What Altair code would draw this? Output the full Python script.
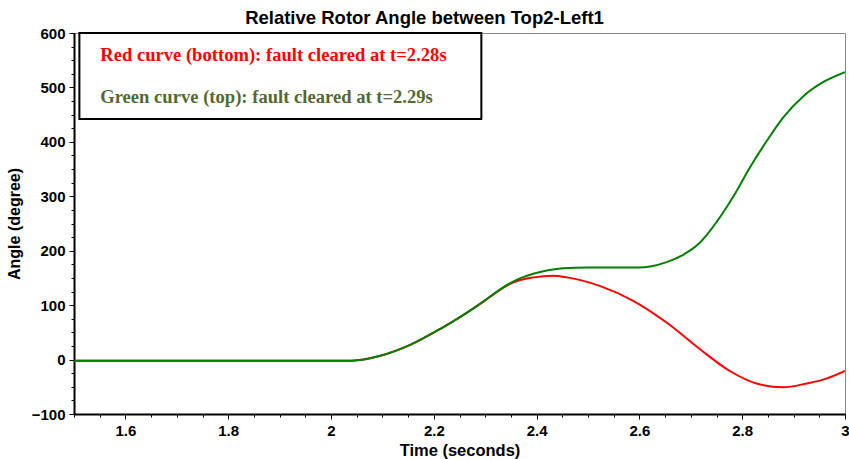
import altair as alt
import pandas as pd

# Green curve (top): fault cleared at t=2.29s
green_t = [1.5, 2.04, 2.096, 2.154, 2.212, 2.251, 2.297, 2.329, 2.362, 2.407, 2.452, 2.50, 2.55,
           2.601, 2.621, 2.653, 2.686, 2.718, 2.737, 2.76, 2.783, 2.815, 2.848, 2.880, 2.919, 2.958, 3.0]
green_v = [-2, -2, 7, 27, 56, 78, 107, 129, 147, 161, 168, 169, 169,
           169, 171, 179, 193, 215, 236, 266, 300, 353, 402, 445, 484, 510, 528]

# Red curve (bottom): fault cleared at t=2.28s
red_t = [1.5, 2.04, 2.096, 2.154, 2.212, 2.251, 2.297, 2.312, 2.355, 2.394, 2.433, 2.459, 2.524,
         2.588, 2.653, 2.718, 2.776, 2.828, 2.880, 2.925, 2.964, 3.0]
red_v = [-2, -2, 7, 27, 56, 78, 107, 117, 142, 151, 154, 151, 135,
         108, 68, 19, -21, -44, -51, -44, -35, -21]

x_labels = [1.6, 1.8, 2.0, 2.2, 2.4, 2.6, 2.8, 3.0]
x_minor = [round(1.5 + 0.05 * i, 2) for i in range(31)]
y_labels = [-100, 0, 100, 200, 300, 400, 500, 600]
y_minor = [-100 + 25 * i for i in range(29)]

note_lines = ["Red curve (bottom): fault cleared at t=2.28s",
              "Green curve (top): fault cleared at t=2.29s"]
note_colors = ["#FF0000", "#55692F"]
note_y = [560, 483]
note_x = [1.551, 1.551]
box_x = [1.5105, 2.2925]
box_y = [600, 442]

df = pd.concat([
    pd.DataFrame({"t": red_t, "v": red_v, "series": "red", "order": 0}),
    pd.DataFrame({"t": green_t, "v": green_v, "series": "green", "order": 1}),
])

xs = alt.Scale(domain=[1.5, 3.0], nice=False, zero=False)
ys = alt.Scale(domain=[-100, 600], nice=False, zero=False)

lab_font = "Liberation Sans"

x_major_axis = alt.Axis(values=x_labels, format="~g", orient="bottom", title="Time (seconds)",
                        labelFont=lab_font, labelFontSize=15, labelFontWeight="bold", labelColor="black",
                        titleFont=lab_font, titleFontSize=16.5, titleFontWeight="bold", titleColor="black",
                        tickSize=5, tickColor="black", tickWidth=1, labelPadding=4, titlePadding=4,
                        domainColor="black", domainWidth=2, grid=False, labelFlush=False)
y_major_axis = alt.Axis(values=y_labels, orient="left", title="Angle (degree)",
                        labelFont=lab_font, labelFontSize=15, labelFontWeight="bold", labelColor="black",
                        titleFont=lab_font, titleFontSize=16, titleFontWeight="bold", titleColor="black",
                        tickSize=5, tickColor="black", tickWidth=1, labelPadding=4, titlePadding=9,
                        domainColor="black", domainWidth=2, grid=False, labelFlush=False)
x_minor_axis = alt.Axis(values=x_minor, orient="bottom", title=None, labels=False, domain=False,
                        tickSize=3, tickColor="black", grid=False)
y_minor_axis = alt.Axis(values=y_minor, orient="left", title=None, labels=False, domain=False,
                        tickSize=3, tickColor="black", grid=False)

minor = alt.Chart(df).mark_line(opacity=0).encode(
    x=alt.X("t:Q", scale=xs, axis=x_minor_axis),
    y=alt.Y("v:Q", scale=ys, axis=y_minor_axis),
    detail="series:N",
)

lines = alt.Chart(df).mark_line(strokeWidth=2, interpolate="monotone", clip=True).encode(
    x=alt.X("t:Q", scale=xs, axis=x_major_axis),
    y=alt.Y("v:Q", scale=ys, axis=y_major_axis),
    color=alt.Color("series:N", scale=alt.Scale(domain=["red", "green"], range=["#FF0000", "#008000"]),
                    legend=None),
    order="order:Q",
)

box_df = pd.DataFrame({"x1": [box_x[0]], "x2": [box_x[1]], "y1": [box_y[0]], "y2": [box_y[1]]})
box = alt.Chart(box_df).mark_rect(fill="white", stroke="black", strokeWidth=2).encode(
    x=alt.X("x1:Q", scale=xs, axis=None), x2="x2:Q",
    y=alt.Y("y1:Q", scale=ys, axis=None), y2="y2:Q",
)

note_df = pd.DataFrame({"x": note_x, "y": note_y, "text": note_lines, "c": note_colors})
notes = alt.Chart(note_df).mark_text(font="Liberation Serif", fontSize=18.6, fontWeight="bold",
                                     align="left", baseline="middle").encode(
    x=alt.X("x:Q", scale=xs, axis=None),
    y=alt.Y("y:Q", scale=ys, axis=None),
    text="text:N",
    color=alt.Color("c:N", scale=None),
)

chart = alt.layer(minor, lines, box, notes).resolve_axis(x="independent", y="independent").properties(
    width=771, height=381,
    title=alt.TitleParams("Relative Rotor Angle between Top2-Left1", font=lab_font, fontSize=18.5,
                          fontWeight="bold", color="black", anchor="middle", dx=-35, dy=1, offset=0),
    autosize=alt.AutoSizeParams(type="none"),
    padding={"left": 74, "top": 33, "right": 4, "bottom": 45},
    background="white",
).configure_view(stroke="#888888", strokeWidth=1)

chart.save("out.html", embed_options={"renderer": "svg", "actions": False})
